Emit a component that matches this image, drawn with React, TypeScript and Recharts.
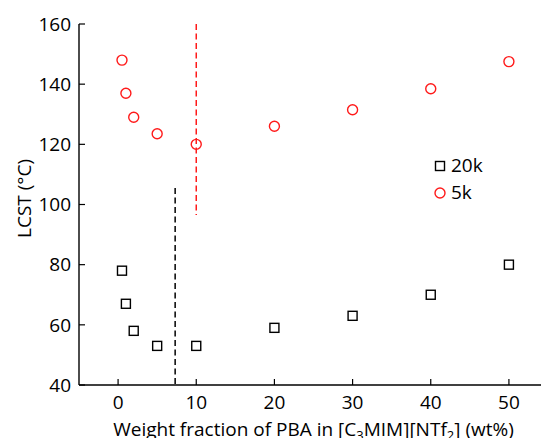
import React from 'react';
import { ScatterChart, Scatter, XAxis, YAxis, ReferenceLine, Legend } from 'recharts';

const x5k = [0.5, 1, 2, 5, 10, 20, 30, 40, 50];
const y5k = [148, 137, 129, 123.5, 120, 126, 131.5, 138.5, 147.5];
const x20k = [0.5, 1, 2, 5, 10, 20, 30, 40, 50];
const y20k = [78, 67, 58, 53, 53, 59, 63, 70, 80];
const xTicks = [0, 10, 20, 30, 40, 50];
const yTicks = [40, 60, 80, 100, 120, 140, 160];
const xDomain = [-5, 55];
const yDomain = [40, 160];
const redLineX = [10, 10];
const redLineY = [160, 96.5];
const blackLineX = [7.3, 7.3];
const blackLineY = [105.5, 40];
const seriesNames = ['20k', '5k'];

const data5k = x5k.map((x, i) => ({ x, y: y5k[i] }));
const data20k = x20k.map((x, i) => ({ x, y: y20k[i] }));

const FONT = '"Open Sans", sans-serif';
const FS = 19;
const RED = '#ff1a1a';

const Square = (props: any) => {
  const { cx, cy } = props;
  return <rect x={cx - 4.5} y={cy - 4.5} width={9} height={9} fill="none" stroke="#000" strokeWidth={1.4} />;
};
const Circle = (props: any) => {
  const { cx, cy } = props;
  return <circle cx={cx} cy={cy} r={5} fill="none" stroke={RED} strokeWidth={1.4} />;
};

const XTitle = (props: any) => {
  const vb = props.viewBox;
  return (
    <text x={vb.x + vb.width / 2} y={vb.y + 50.5} textAnchor="middle" fontFamily={FONT} fontSize={FS} fill="#000">
      Weight fraction of PBA in [C<tspan fontSize={13} dy={4}>3</tspan>
      <tspan dy={-4}>MIM][NTf</tspan>
      <tspan fontSize={13} dy={4}>2</tspan>
      <tspan dy={-4}>] (wt%)</tspan>
    </text>
  );
};

const YTitle = (props: any) => {
  const vb = props.viewBox;
  const cx = 31;
  const cy = vb.y + vb.height / 2 - 6;
  return (
    <text x={cx} y={cy} textAnchor="middle" transform={`rotate(-90, ${cx}, ${cy})`} fontFamily={FONT} fontSize={FS} fill="#000">
      LCST (°C)
    </text>
  );
};

const renderLegend = () => (
  <div style={{ fontFamily: FONT, fontSize: FS, color: '#000', lineHeight: '27px' }}>
    <div style={{ display: 'flex', alignItems: 'center' }}>
      <svg width={12} height={12} style={{ marginRight: 5 }}>
        <rect x={1.5} y={1.5} width={9} height={9} fill="none" stroke="#000" strokeWidth={1.4} />
      </svg>
      <span>{seriesNames[0]}</span>
    </div>
    <div style={{ display: 'flex', alignItems: 'center' }}>
      <svg width={12} height={12} style={{ marginRight: 5 }}>
        <circle cx={6} cy={6} r={5} fill="none" stroke={RED} strokeWidth={1.4} />
      </svg>
      <span>{seriesNames[1]}</span>
    </div>
  </div>
);

export default function App() {
  return (
    <div style={{ position: 'fixed', left: 0, top: 0, width: 541, height: 438, overflow: 'hidden', background: '#fff' }}>
      <ScatterChart width={548} height={438} margin={{ top: 24, right: 0, bottom: 0, left: 0 }} style={{ fontFamily: FONT }}>
        <XAxis
          xAxisId="main"
          type="number"
          dataKey="x"
          domain={xDomain}
          ticks={xTicks}
          allowDataOverflow
          height={53}
          axisLine={{ stroke: '#000', strokeWidth: 1.4 }}
          tickLine={{ stroke: '#000', strokeWidth: 1.2 }}
          tickSize={-6}
          tickMargin={17}
          tick={{ fill: '#000', fontSize: FS, fontFamily: FONT }}
          label={<XTitle />}
        />
        <XAxis
          xAxisId="top"
          orientation="top"
          type="number"
          domain={xDomain}
          height={0}
          tick={false}
          tickLine={false}
          axisLine={{ stroke: '#000', strokeWidth: 1.4 }}
        />
        <YAxis
          type="number"
          dataKey="y"
          domain={yDomain}
          ticks={yTicks}
          allowDataOverflow
          width={79}
          axisLine={{ stroke: '#000', strokeWidth: 1.4 }}
          tickLine={{ stroke: '#000', strokeWidth: 1.2 }}
          tickSize={-6}
          tickMargin={14}
          tick={{ fill: '#000', fontSize: FS, fontFamily: FONT }}
          label={<YTitle />}
        />
        <ReferenceLine
          xAxisId="main"
          segment={[{ x: redLineX[0], y: redLineY[0] }, { x: redLineX[1], y: redLineY[1] }]}
          stroke={RED}
          strokeWidth={1.5}
          strokeDasharray="6 3.5"
        />
        <ReferenceLine
          xAxisId="main"
          segment={[{ x: blackLineX[0], y: blackLineY[0] }, { x: blackLineX[1], y: blackLineY[1] }]}
          stroke="#000"
          strokeWidth={1.5}
          strokeDasharray="6 3.5"
        />
        <Scatter xAxisId="main" name="20k" data={data20k} shape={<Square />} isAnimationActive={false} />
        <Scatter xAxisId="main" name="5k" data={data5k} shape={<Circle />} isAnimationActive={false} />
        <Legend
          layout="vertical"
          align="center"
          verticalAlign="middle"
          content={renderLegend}
          wrapperStyle={{ position: 'absolute', left: 434, top: 152, width: 80, height: 60 }}
        />
      </ScatterChart>
    </div>
  );
}
